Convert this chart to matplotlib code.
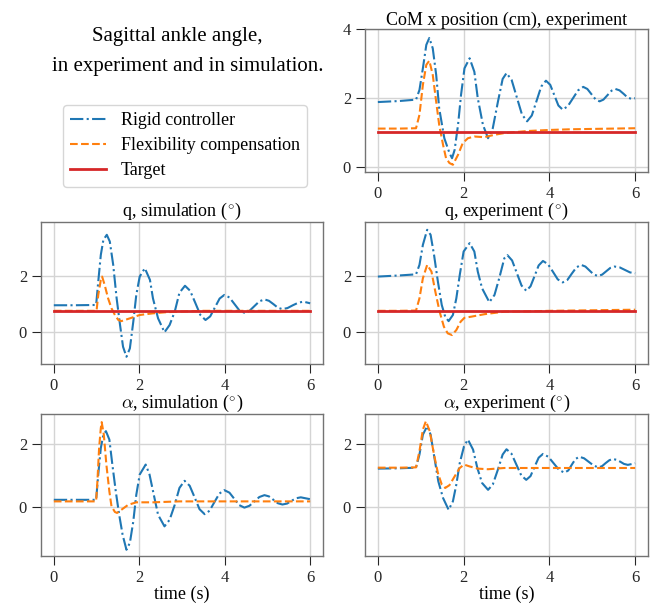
import matplotlib
matplotlib.use("Agg")
import matplotlib.pyplot as plt

# ---- data (time in s) ----
labels = ["Rigid controller", "Flexibility compensation", "Target"]
xticks = [0, 2, 4, 6]

# CoM x position, experiment (cm)
com_t_rigid = [0, 0.5, 0.89, 0.97, 1.05, 1.13, 1.2, 1.28, 1.36, 1.43, 1.55, 1.67, 1.73, 1.79, 1.87, 1.94,
               2.02, 2.14, 2.25, 2.33, 2.45, 2.57, 2.68, 2.8, 2.91, 3.0, 3.12, 3.24, 3.36, 3.48, 3.59, 3.7,
               3.81, 3.92, 4.02, 4.115, 4.21, 4.31, 4.43, 4.55, 4.67, 4.79, 4.885, 4.98, 5.075, 5.17, 5.26,
               5.355, 5.45, 5.54, 5.635, 5.73, 5.825, 5.92, 6.0]
com_rigid = [1.88, 1.91, 1.95, 2.23, 2.86, 3.54, 3.74, 3.44, 2.67, 1.70, 0.83, 0.40, 0.25, 0.49, 1.22, 2.09,
             2.86, 3.15, 2.76, 1.99, 1.22, 0.83, 1.12, 1.89, 2.55, 2.72, 2.52, 2.02, 1.52, 1.32, 1.49, 1.91,
             2.33, 2.50, 2.38, 2.08, 1.78, 1.66, 1.76, 1.99, 2.22, 2.32, 2.26, 2.11, 1.96, 1.90, 1.95,
             2.08, 2.21, 2.26, 2.22, 2.12, 2.01, 1.97, 1.99]
com_t_flex = [0, 0.5, 0.89, 0.97, 1.05, 1.13, 1.2, 1.28, 1.36, 1.43, 1.52, 1.59, 1.67, 1.75, 1.87, 1.98,
              2.1, 2.25, 2.48, 2.72, 2.95, 3.5, 4.0, 4.5, 5.0, 5.5, 6.0]
com_flex = [1.11, 1.11, 1.12, 1.51, 2.38, 2.96, 3.08, 2.67, 1.89, 1.22, 0.64, 0.25, 0.11, 0.06, 0.35, 0.69,
            0.83, 0.88, 0.86, 0.93, 0.98, 1.04, 1.07, 1.09, 1.10, 1.11, 1.12]
com_target = 1.0

# q, simulation (deg)
qsim_t_rigid = [0, 0.5, 0.99, 1.04, 1.1, 1.16, 1.24, 1.31, 1.39, 1.47, 1.55, 1.62, 1.7, 1.78, 1.86, 1.93,
                2.01, 2.13, 2.25, 2.32, 2.44, 2.59, 2.71, 2.83, 2.94, 3.07, 3.19, 3.31, 3.43, 3.55, 3.66,
                3.77, 3.88, 3.99, 4.11, 4.225, 4.34, 4.46, 4.58, 4.695, 4.81, 4.93, 5.035, 5.14, 5.245,
                5.35, 5.47, 5.595, 5.72, 5.84, 6.0]
qsim_rigid = [0.95, 0.95, 0.96, 1.80, 2.76, 3.30, 3.48, 3.24, 2.40, 1.20, 0.24, -0.54, -0.90, -0.60, 0.36, 1.32,
              1.98, 2.28, 1.86, 1.20, 0.48, -0.02, 0.24, 0.72, 1.40, 1.65, 1.47, 1.04, 0.60, 0.42, 0.55,
              0.87, 1.19, 1.32, 1.23, 1.00, 0.77, 0.68, 0.75, 0.92, 1.09, 1.16, 1.11, 0.99, 0.86,
              0.81, 0.85, 0.95, 1.04, 1.08, 1.02]
qsim_t_flex = [0, 0.5, 1.0, 1.04, 1.1, 1.13, 1.19, 1.27, 1.35, 1.43, 1.51, 1.58, 1.78, 2.01, 2.32, 2.63,
               2.94, 3.5, 6.0]
qsim_flex = [0.75, 0.75, 0.75, 1.32, 1.86, 1.98, 1.68, 1.20, 0.84, 0.60, 0.42, 0.38, 0.48, 0.60, 0.66, 0.70,
             0.72, 0.75, 0.75]
q_target = 0.75

# q, experiment (deg)
qexp_t_rigid = [0, 0.5, 0.89, 0.97, 1.05, 1.15, 1.23, 1.31, 1.4, 1.49, 1.57, 1.65, 1.75, 1.83, 1.91, 2.0,
                2.14, 2.25, 2.33, 2.43, 2.6, 2.72, 2.83, 2.95, 3.02, 3.13, 3.24, 3.35, 3.46, 3.56, 3.655,
                3.75, 3.85, 3.965, 4.08, 4.195, 4.31, 4.42, 4.525, 4.63, 4.74, 4.84, 4.935, 5.03, 5.13,
                5.23, 5.325, 5.42, 5.52, 5.64, 5.76, 5.88, 6.0]
qexp_rigid = [1.98, 2.02, 2.06, 2.40, 3.12, 3.66, 3.48, 2.76, 1.80, 0.96, 0.54, 0.38, 0.60, 1.20, 2.04, 2.88,
              3.18, 2.88, 2.16, 1.56, 1.06, 1.32, 1.92, 2.64, 2.75, 2.56, 2.11, 1.66, 1.47, 1.63, 2.00,
              2.38, 2.54, 2.43, 2.16, 1.88, 1.77, 1.86, 2.09, 2.31, 2.40, 2.34, 2.20, 2.06, 2.00,
              2.05, 2.17, 2.29, 2.34, 2.31, 2.22, 2.13, 2.10]
qexp_t_flex = [0, 0.5, 0.89, 0.97, 1.05, 1.15, 1.25, 1.34, 1.44, 1.54, 1.63, 1.73, 1.83, 1.93, 2.02, 2.18,
               2.49, 2.95, 3.5, 4.0, 5.0, 6.0]
qexp_flex = [0.75, 0.75, 0.76, 1.20, 1.92, 2.40, 2.16, 1.44, 0.72, 0.18, -0.06, -0.12, 0.06, 0.36, 0.50, 0.54,
             0.63, 0.72, 0.73, 0.75, 0.77, 0.79]

# alpha, simulation (deg)
asim_t_rigid = [0, 0.5, 0.99, 1.04, 1.1, 1.16, 1.22, 1.3, 1.37, 1.45, 1.53, 1.61, 1.7, 1.78, 1.86, 1.93,
                2.01, 2.15, 2.24, 2.34, 2.44, 2.59, 2.71, 2.83, 2.94, 3.06, 3.18, 3.295, 3.41, 3.53, 3.645,
                3.76, 3.875, 3.99, 4.11, 4.225, 4.34, 4.46, 4.58, 4.695, 4.81, 4.93, 5.035, 5.14, 5.245,
                5.35, 5.46, 5.565, 5.67, 5.78, 6.0]
asim_rigid = [0.22, 0.22, 0.22, 1.03, 1.88, 2.31, 2.42, 2.15, 1.35, 0.49, -0.26, -0.90, -1.38, -1.16, -0.47, 0.38,
              1.03, 1.35, 1.03, 0.38, -0.26, -0.63, -0.42, 0.06, 0.60, 0.83, 0.67, 0.30, -0.08, -0.24, -0.13,
              0.15, 0.42, 0.53, 0.45, 0.25, 0.05, -0.03, 0.03, 0.17, 0.31, 0.37, 0.33, 0.22, 0.11,
              0.07, 0.10, 0.19, 0.27, 0.30, 0.24]
asim_t_flex = [0, 0.5, 0.99, 1.02, 1.06, 1.1, 1.12, 1.17, 1.23, 1.3, 1.35, 1.43, 1.48, 1.58, 1.74, 1.93,
               2.32, 2.94, 6.0]
asim_flex = [0.17, 0.17, 0.17, 0.81, 1.88, 2.52, 2.71, 2.31, 1.35, 0.49, 0.01, -0.17, -0.20, -0.10, 0.06, 0.14,
             0.14, 0.17, 0.17]

# alpha, experiment (deg)
aexp_t_rigid = [0, 0.5, 0.89, 0.97, 1.05, 1.15, 1.23, 1.32, 1.41, 1.52, 1.65, 1.75, 1.83, 1.91, 2.01, 2.1,
                2.22, 2.32, 2.43, 2.57, 2.68, 2.8, 2.91, 3.0, 3.115, 3.23, 3.345, 3.46, 3.56, 3.655, 3.75,
                3.85, 3.975, 4.1, 4.225, 4.35, 4.44, 4.525, 4.61, 4.7, 4.81, 4.925, 5.04, 5.15, 5.23,
                5.315, 5.4, 5.48, 5.57, 5.655, 5.74, 5.83, 6.0]
aexp_rigid = [1.22, 1.23, 1.25, 1.67, 2.31, 2.58, 2.31, 1.56, 0.81, 0.28, -0.10, 0.17, 0.71, 1.40, 1.94, 2.15,
              1.83, 1.24, 0.76, 0.54, 0.71, 1.19, 1.67, 1.84, 1.70, 1.35, 1.00, 0.86, 0.98, 1.28, 1.57,
              1.69, 1.60, 1.39, 1.18, 1.09, 1.16, 1.35, 1.53, 1.60, 1.55, 1.43, 1.31, 1.26, 1.30,
              1.40, 1.49, 1.53, 1.50, 1.44, 1.37, 1.34, 1.39]
aexp_t_flex = [0, 0.5, 0.89, 0.97, 1.05, 1.12, 1.21, 1.31, 1.4, 1.49, 1.57, 1.67, 1.79, 1.91, 2.01, 2.14,
               2.33, 2.57, 2.95, 6.0]
aexp_flex = [1.25, 1.25, 1.26, 1.78, 2.47, 2.74, 2.42, 1.67, 1.08, 0.71, 0.60, 0.69, 0.97, 1.24, 1.35, 1.29,
             1.22, 1.20, 1.24, 1.24]

# ---- style ----
plt.rcParams["font.family"] = ["Liberation Serif", "DejaVu Serif"]
plt.rcParams["mathtext.fontset"] = "cm"
plt.rcParams["font.size"] = 12
plt.rcParams["axes.edgecolor"] = "0.45"
plt.rcParams["axes.linewidth"] = 1.0
plt.rcParams["xtick.color"] = "0.15"
plt.rcParams["ytick.color"] = "0.15"
plt.rcParams["xtick.major.size"] = 6.5
plt.rcParams["ytick.major.size"] = 6.5
plt.rcParams["grid.color"] = "0.83"
plt.rcParams["grid.linewidth"] = 1.0

blue, orange, red = "#1f77b4", "#ff7f0e", "#d62728"

W, H = 657, 605
fig = plt.figure(figsize=(W / 100, H / 100), dpi=100)


def box(left, top, right, bottom):
    return [left / W, 1 - bottom / H, (right - left) / W, (bottom - top) / H]


ax_com = fig.add_axes(box(365, 29, 648, 172))
ax_qs = fig.add_axes(box(41, 222, 323, 364))
ax_qe = fig.add_axes(box(365, 222, 648, 364))
ax_as = fig.add_axes(box(41, 414, 323, 556))
ax_ae = fig.add_axes(box(365, 414, 648, 556))

panels = [
    (ax_com, "CoM x position (cm), experiment", com_t_rigid, com_rigid, com_t_flex, com_flex, com_target),
    (ax_qs, r"q, simulation ($^{\circ}$)", qsim_t_rigid, qsim_rigid, qsim_t_flex, qsim_flex, q_target),
    (ax_qe, r"q, experiment ($^{\circ}$)", qexp_t_rigid, qexp_rigid, qexp_t_flex, qexp_flex, q_target),
    (ax_as, r"$\alpha$, simulation ($^{\circ}$)", asim_t_rigid, asim_rigid, asim_t_flex, asim_flex, None),
    (ax_ae, r"$\alpha$, experiment ($^{\circ}$)", aexp_t_rigid, aexp_rigid, aexp_t_flex, aexp_flex, None),
]

handles = []
for ax, title, tr, yr, tf, yf, target in panels:
    h1, = ax.plot(tr, yr, "-.", color=blue, lw=1.5, label=labels[0])
    h2, = ax.plot(tf, yf, "--", color=orange, lw=1.5, label=labels[1])
    if target is not None:
        h3, = ax.plot([0, 6], [target, target], "-", color=red, lw=2, label=labels[2])
        if not handles:
            handles = [h1, h2, h3]
    ax.set_title(title, fontsize=13, pad=3)
    ax.set_xlim(-0.3, 6.3)
    ax.set_xticks(xticks)
    ax.grid(True)
    ax.set_axisbelow(True)

ax_com.set_ylim(-0.15, 4.0)
ax_com.set_yticks([0, 2, 4])
for ax in (ax_qs, ax_qe):
    ax.set_ylim(-1.16, 3.94)
    ax.set_yticks([0, 2])
for ax in (ax_as, ax_ae):
    ax.set_ylim(-1.58, 2.97)
    ax.set_yticks([0, 2])
    ax.set_xlabel("time (s)", fontsize=13, labelpad=0)

fig.text(177.5 / W, 1 - 41 / H, "Sagittal ankle angle,", ha="center", va="baseline", fontsize=15)
fig.text(187.5 / W, 1 - 71 / H, "in experiment and in simulation.", ha="center", va="baseline", fontsize=15)

fig.legend(handles=handles, loc="upper left", bbox_to_anchor=(63 / W, 1 - 105 / H),
           fontsize=13, frameon=True, edgecolor="0.8", fancybox=True, borderaxespad=0,
           handlelength=2.0, labelspacing=0.45)

fig.savefig("out.png", dpi=100)
